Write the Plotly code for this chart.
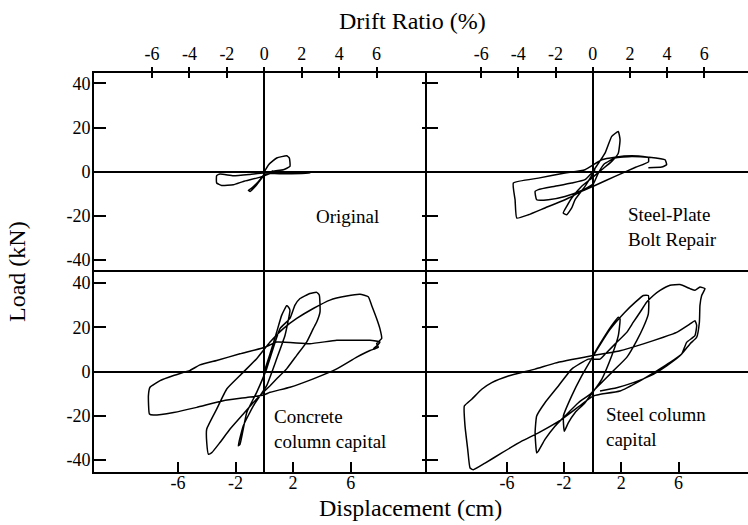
import plotly.graph_objects as go

# ---- tick values -------------------------------------------------------
load_ticks = [40, 20, 0, -20, -40]
disp_ticks = [-6, -2, 2, 6]
drift_ticks = [-6, -4, -2, 0, 2, 4, 6]
STORY_HEIGHT_CM = 130.0  # drift ratio (%) = displacement / story height * 100

# ---- hysteresis loops: displacement (cm) / load (kN) -------------------
orig_disp = [0.0, 0.3, 0.86, 1.55, 1.74, 1.78, 1.32, 0.6, 0.0, -0.42,
             -0.9, -1.11, -0.99, -0.6, -0.07, 0.5, 1.5, 3.17, 2.6, 1.2,
             -0.07, -0.99, -2.15, -3.08, -3.31, -3.31, -2.96, -2.15, -1.46, -0.53,
             0.16, 0.6]
orig_load = [0.0, 3.2, 6.2, 7.2, 6.2, 2.4, 0.9, 0.2, -1.2, -4.5,
             -7.5, -8.4, -8.9, -6.5, -2.1, -0.6, -0.3, -0.6, -0.8, -0.9,
             -0.6, -1.2, -1.8, -1.0, -1.8, -5.1, -6.2, -5.9, -4.4, -2.9,
             -1.4, 0.5]

plate_disp = [0.0, 0.86, 1.33, 1.79, 1.91, 1.79, 1.33, 0.63, -0.07, -0.77,
              -1.47, -1.82, -2.06, -1.82, -1.47, -1.24, -0.54, 0.16, -0.54, -1.47,
              -2.64, -3.80, -4.03, -3.92, -3.10, -1.94, -0.77, 0.04, 0.39, 0.8,
              1.56, 2.73, 3.89, 3.9, 3.0, 1.56, 0.04, -0.77, -1.94, -3.34,
              -4.50, -5.31, -5.43, -5.55, -3.80, -1.94, -0.54, 0.63, 1.56, 2.73,
              3.89, 5.06, 5.17, 4.83, 3.89]
plate_load = [0.0, 8.4, 16.0, 18.2, 14.5, 8.4, 4.7, 0.9, -2.9, -6.6,
              -11.9, -15.7, -18.7, -19.5, -16.4, -12.7, -6.6, 0.9, -3.6, -5.1,
              -6.6, -8.1, -8.9, -12.7, -12.7, -11.2, -8.5, -5.5, -0.6, 3.5,
              6.2, 6.9, 6.4, 4.5, 2.0, -2.1, -6.6, -8.9, -12.7, -16.4,
              -19.5, -21.0, -12.7, -5.1, -2.9, -0.6, 0.9, 5.4, 6.6, 7.2,
              6.6, 5.4, 3.2, 2.1, 1.8]

concrete_disp = [0.0, 0.4, 0.86, 1.21, 1.55, 1.67, 1.78, 1.44, 0.86, 0.16,
                 -0.76, -1.46, -1.81, -1.69, -1.22, -0.53, 0.16, 1.09, 1.78, 2.13,
                 2.48, 3.17, 3.64, 3.82, 3.87, 3.64, 3.40, 2.94, 2.25, 1.55,
                 0.86, 0.40, -0.07, -0.76, -1.46, -2.38, -3.08, -3.65, -3.88, -4.0,
                 -4.0, -3.31, -2.61, -1.69, -0.53, 0.40, 1.32, 2.25, 3.40, 4.56,
                 5.72, 6.65, 7.22, 7.45, 7.80, 8.03, 8.15, 7.80, 7.92, 7.69,
                 7.34, 6.42, 5.03, 3.40, 1.78, 0.40, -0.05, -1.22, -2.85, -4.69,
                 -6.30, -7.70, -7.98, -8.05, -7.94, -7.24, -6.30, -5.16, -4.47, -3.31,
                 -1.69, 0.05, 0.86, 3.17, 5.03, 7.34, 8.03, 7.8, 7.57]
concrete_load = [0.0, 8.0, 17.9, 25.5, 29.7, 29.2, 27.7, 16.4, 5.8, -6.4,
                 -15.5, -24.5, -33.6, -32.9, -18.5, -9.4, 1.2, 19.4, 24.0, 30.0,
                 33.0, 35.3, 35.8, 34.5, 27.0, 22.4, 19.4, 13.3, 7.3, 1.2,
                 -3.3, -6.4, -9.4, -14.0, -19.2, -26.0, -32.1, -36.7, -37.4, -32.1,
                 -26.0, -17.0, -7.9, -1.8, 5.8, 13.3, 19.4, 24.0, 28.5, 32.3,
                 34.1, 34.9, 33.8, 30.0, 24.0, 19.4, 14.9, 12.6, 11.0, 10.3,
                 9.5, 6.5, 1.2, -3.3, -7.1, -9.4, -10.6, -11.7, -13.2, -16.2,
                 -18.5, -19.7, -19.2, -10.9, -7.1, -4.1, -1.8, 0.5, 3.0, 5.0,
                 8.0, 11.0, 13.3, 12.6, 14.1, 14.1, 13.3, 11.5, 10.3]

steel_disp = [0.0, 0.04, 0.86, 1.33, 1.79, 1.91, 1.79, 1.33, 0.63, -0.54,
              -1.24, -1.71, -1.99, -2.05, -1.47, -0.77, 0.04, 0.5, 1.2, 2.2,
              3.0, 3.54, 3.89, 3.89, 3.54, 3.08, 2.38, 1.44, 0.51, -0.19,
              -1.0, -1.94, -2.64, -3.34, -3.80, -3.92, -4.03, -3.92, -3.34, -2.40,
              -1.47, -0.31, 0.51, 0.98, 1.68, 2.38, 2.84, 3.31, 3.78, 4.24,
              4.71, 5.41, 6.10, 6.80, 7.15, 7.5, 7.85, 7.62, 7.50, 7.46,
              7.27, 6.80, 6.22, 5.41, 4.48, 3.31, 1.91, 0.51, 0.04, -0.77,
              -2.17, -3.80, -4.97, -6.36, -7.53, -8.35, -8.58, -8.74, -8.93, -8.98,
              -8.46, -7.76, -7.06, -5.90, -4.03, -2.64, -0.07, 1.91, 3.54, 4.94,
              5.87, 6.80, 7.15, 7.27, 7.15, 6.57, 6.22, 5.17, 4.01, 2.84,
              1.68, 0.51]
steel_load = [0.0, 7.1, 16.2, 20.8, 24.5, 23.8, 16.2, 7.1, -3.5, -14.1,
              -18.6, -23.2, -27.0, -20.1, -11.0, -2.0, 7.1, 12.0, 19.0, 26.5,
              31.5, 34.4, 34.4, 26.1, 20.0, 14.0, 6.4, 0.3, -5.7, -10.3,
              -14.1, -20.1, -24.7, -30.7, -36.0, -36.8, -27.7, -20.1, -14.1, -6.5,
              1.1, 5.6, 5.6, 8.6, 13.2, 17.7, 22.3, 26.8, 31.4, 34.4,
              36.7, 39.0, 39.3, 37.5, 36.7, 38.2, 37.5, 34.4, 29.9, 22.3,
              15.5, 12.5, 7.9, 4.1, 0.3, -4.2, -8.8, -10.3, -11.0, -14.8,
              -21.6, -27.7, -31.5, -36.8, -41.4, -44.4, -43.6, -35.3, -24.7, -15.6,
              -12.5, -8.0, -5.0, -2.0, 1.1, 3.8, 7.1, 9.4, 12.5, 15.5,
              17.7, 21.5, 23.0, 20.8, 16.2, 13.2, 7.9, 2.6, -2.0, -5.0,
              -7.3, -8.8]

# ---- axis ranges --------------------------------------------------------
disp_range_left = [-11.83, 11.30]
disp_range_right = [-11.59, 10.86]
load_range_top = [-45.4, 44.7]
load_range_bottom = [-45.2, 45.0]


def to_drift(rng):
    return [v / STORY_HEIGHT_CM * 100.0 for v in rng]


def labels(vals):
    return [str(v) for v in vals]


FONT = "Liberation Serif, Times New Roman, Times, serif"
INK = "black"
LW = 1.6
TICK_FONT = dict(family=FONT, size=18, color=INK)

dom_x_left = [94 / 748, 427 / 748]
dom_x_right = [427 / 748, 1.0]
dom_y_top = [1 - 272 / 525, 1 - 73 / 525]
dom_y_bottom = [1 - 471.5 / 525, 1 - 272 / 525]

fig = go.Figure()

panels = [
    (orig_disp, orig_load, "x", "y"),
    (plate_disp, plate_load, "x2", "y2"),
    (concrete_disp, concrete_load, "x3", "y3"),
    (steel_disp, steel_load, "x4", "y4"),
]
for xs, ys, xa, ya in panels:
    fig.add_trace(go.Scatter(x=xs, y=ys, xaxis=xa, yaxis=ya, mode="lines",
                             line=dict(color=INK, width=1.5, shape="spline", smoothing=0.4),
                             showlegend=False, hoverinfo="skip"))

# placeholder traces so the drift-ratio and crossing-tick axes are built
for xa, ya in [("x5", "y"), ("x6", "y"), ("x7", "y2"), ("x8", "y2"),
               ("x2", "y5"), ("x4", "y6")]:
    fig.add_trace(go.Scatter(x=[None], y=[None], xaxis=xa, yaxis=ya,
                             mode="lines", showlegend=False, hoverinfo="skip"))

base = dict(showgrid=False, color=INK, linecolor=INK, linewidth=LW,
            tickcolor=INK, tickwidth=LW, zerolinecolor=INK, zerolinewidth=LW,
            tickfont=TICK_FONT)

fig.update_layout(
    width=748, height=525,
    margin=dict(l=0, r=0, t=0, b=0),
    paper_bgcolor="white", plot_bgcolor="white",
    font=dict(family=FONT, color=INK),
    # top-left: Original
    xaxis=dict(base, domain=dom_x_left, anchor="y", range=disp_range_left,
               showline=False, ticks="", showticklabels=False, zeroline=True),
    yaxis=dict(base, domain=dom_y_top, anchor="x", range=load_range_top,
               showline=True, ticks="inside", ticklen=12, ticklabelstandoff=-2,
               tickvals=load_ticks, ticktext=labels(load_ticks), zeroline=True),
    # top-right: steel-plate bolt repair
    xaxis2=dict(base, domain=dom_x_right, anchor="y2", range=disp_range_right,
                showline=False, ticks="", showticklabels=False, zeroline=True),
    yaxis2=dict(base, domain=dom_y_top, anchor="x2", range=load_range_top,
                showline=True, ticks="inside", ticklen=11,
                tickvals=[v for v in load_ticks if v != 0], showticklabels=False,
                zeroline=True),
    # bottom-left: concrete column capital
    xaxis3=dict(base, domain=dom_x_left, anchor="y3", range=disp_range_left,
                showline=True, mirror=True, ticks="inside", ticklen=10,
                ticklabelstandoff=-6,
                tickvals=disp_ticks, ticktext=labels(disp_ticks), zeroline=True),
    yaxis3=dict(base, domain=dom_y_bottom, anchor="x3", range=load_range_bottom,
                showline=True, ticks="inside", ticklen=12, ticklabelstandoff=-2,
                tickvals=load_ticks, ticktext=labels(load_ticks), zeroline=True),
    # bottom-right: steel column capital
    xaxis4=dict(base, domain=dom_x_right, anchor="y4", range=disp_range_right,
                showline=True, mirror=True, ticks="inside", ticklen=10,
                ticklabelstandoff=-6,
                tickvals=disp_ticks, ticktext=labels(disp_ticks), zeroline=True),
    yaxis4=dict(base, domain=dom_y_bottom, anchor="x4", range=load_range_bottom,
                showline=True, ticks="inside", ticklen=11,
                tickvals=[v for v in load_ticks if v != 0], showticklabels=False,
                zeroline=True),
    # drift-ratio axes along the top (ticks crossing the frame line)
    xaxis5=dict(base, overlaying="x", side="top", anchor="y",
                range=to_drift(disp_range_left), showline=True,
                ticks="outside", ticklen=4, tickvals=drift_ticks,
                ticktext=labels(drift_ticks), zeroline=False),
    xaxis6=dict(base, overlaying="x", side="top", anchor="y",
                range=to_drift(disp_range_left), showline=False,
                ticks="inside", ticklen=5, tickvals=drift_ticks,
                showticklabels=False, zeroline=False),
    xaxis7=dict(base, overlaying="x2", side="top", anchor="y2",
                range=to_drift(disp_range_right), showline=True,
                ticks="outside", ticklen=4, tickvals=drift_ticks,
                ticktext=labels(drift_ticks), zeroline=False),
    xaxis8=dict(base, overlaying="x2", side="top", anchor="y2",
                range=to_drift(disp_range_right), showline=False,
                ticks="inside", ticklen=5, tickvals=drift_ticks,
                showticklabels=False, zeroline=False),
    # short outward ticks on the middle divider
    yaxis5=dict(base, overlaying="y2", side="left", anchor="x2",
                range=load_range_top, showline=False, ticks="outside", ticklen=4,
                tickvals=[v for v in load_ticks if v != 0], showticklabels=False,
                zeroline=False),
    yaxis6=dict(base, overlaying="y4", side="left", anchor="x4",
                range=load_range_bottom, showline=False, ticks="outside", ticklen=4,
                tickvals=[v for v in load_ticks if v != 0], showticklabels=False,
                zeroline=False),
)

ann_font = dict(family=FONT, size=19, color=INK)
fig.add_annotation(text="Original", x=5.8, y=-20.2, xref="x", yref="y",
                   showarrow=False, xanchor="center", yanchor="middle", font=ann_font)
fig.add_annotation(text="Steel-Plate<br>Bolt Repair", x=2.33, y=-24.9, xref="x2", yref="y2",
                   showarrow=False, xanchor="left", yanchor="middle", align="left",
                   font=ann_font)
fig.add_annotation(text="Concrete<br>column capital", x=0.51, y=-25.9, xref="x3", yref="y3",
                   showarrow=False, xanchor="left", yanchor="middle", align="left",
                   font=ann_font)
fig.add_annotation(text="Steel column<br>capital", x=0.79, y=-25.2, xref="x4", yref="y4",
                   showarrow=False, xanchor="left", yanchor="middle", align="left",
                   font=ann_font)

title_font = dict(family=FONT, size=24, color=INK)
fig.add_annotation(text="Drift Ratio (%)", x=412 / 748, y=1 - 21 / 525,
                   xref="paper", yref="paper", showarrow=False,
                   xanchor="center", yanchor="middle", font=title_font)
fig.add_annotation(text="Displacement (cm)", x=410 / 748, y=1 - 508 / 525,
                   xref="paper", yref="paper", showarrow=False,
                   xanchor="center", yanchor="middle", font=title_font)
fig.add_annotation(text="Load (kN)", x=17 / 748, y=1 - 272 / 525, textangle=-90,
                   xref="paper", yref="paper", showarrow=False,
                   xanchor="center", yanchor="middle", font=title_font)

fig.write_html("out.html")
